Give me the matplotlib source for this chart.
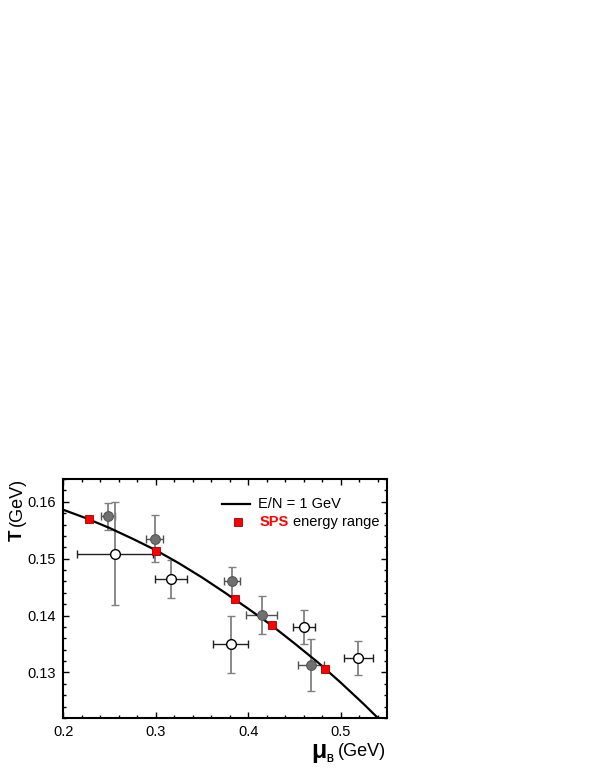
import matplotlib
matplotlib.use("Agg")
import matplotlib.pyplot as plt
from matplotlib.ticker import MultipleLocator

plt.rcParams['font.family'] = ['Liberation Sans', 'DejaVu Sans']

# E/N = 1 GeV freeze-out curve
curve_mu = [0.200, 0.225, 0.250, 0.275, 0.300, 0.325, 0.350, 0.375, 0.400,
            0.425, 0.450, 0.475, 0.500, 0.525, 0.540]
curve_T = [0.1586, 0.1571, 0.1554, 0.1535, 0.1515, 0.1492, 0.1467, 0.1440, 0.1412,
           0.1383, 0.1351, 0.1318, 0.1282, 0.1244, 0.1220]

# SPS energy range points on the curve
sps_mu = [0.228, 0.3005, 0.3855, 0.4253, 0.4831]
sps_T = [0.1569, 0.1514, 0.1429, 0.1383, 0.1307]

# grey filled circles
grey_mu = [0.2488, 0.2987, 0.3826, 0.4144, 0.4676]
grey_T = [0.15745, 0.15353, 0.14601, 0.14007, 0.13133]
grey_xerr = [0.0076, 0.0092, 0.0087, 0.0165, 0.014]
grey_yerr = [0.0024, 0.0041, 0.0025, 0.0033, 0.0045]

# open circles
open_mu = [0.2561, 0.3165, 0.3808, 0.4603, 0.5189]
open_T = [0.1509, 0.14643, 0.13495, 0.13797, 0.1325]
open_xerr = [0.041, 0.0175, 0.0188, 0.012, 0.0154]
open_yerr = [0.009, 0.0034, 0.005, 0.003, 0.003]

W, H = 595, 770
fig = plt.figure(figsize=(W / 100, H / 100), dpi=100)
ax = fig.add_axes([0.1062, 0.0675, 0.5445, 0.3104])

# error bars: vertical in grey, horizontal darker
ax.errorbar(grey_mu, grey_T, yerr=grey_yerr, fmt='none', ecolor='#808080',
            elinewidth=1.3, capsize=2.8, capthick=1.0, zorder=2)
ax.errorbar(grey_mu, grey_T, xerr=grey_xerr, fmt='none', ecolor='#505050',
            elinewidth=1.0, capsize=2.8, capthick=1.0, zorder=2)
ax.errorbar(open_mu, open_T, yerr=open_yerr, fmt='none', ecolor='#808080',
            elinewidth=1.3, capsize=2.8, capthick=1.0, zorder=2)
ax.errorbar(open_mu, open_T, xerr=open_xerr, fmt='none', ecolor='#202020',
            elinewidth=1.0, capsize=2.8, capthick=1.0, zorder=2)

ax.plot(curve_mu, curve_T, color='black', lw=1.6, zorder=3)

ax.plot(grey_mu, grey_T, 'o', ms=7, mfc='#707070', mec='#555555', mew=0.8, zorder=4)
ax.plot(open_mu, open_T, 'o', ms=7, mfc='white', mec='black', mew=1.0, zorder=4)
ax.plot(sps_mu, sps_T, 's', ms=6, mfc='red', mec='#990000', mew=0.6, zorder=5)

ax.set_xlim(0.2, 0.55)
ax.set_ylim(0.122, 0.164)

ax.xaxis.set_minor_locator(MultipleLocator(0.02))
ax.yaxis.set_minor_locator(MultipleLocator(0.002))
ax.set_xticks([0.2, 0.3, 0.4, 0.5])
ax.set_xticklabels(['0.2', '0.3', '0.4', '0.5'])
ax.set_yticks([0.13, 0.14, 0.15, 0.16])
ax.set_yticklabels(['0.13', '0.14', '0.15', '0.16'])

ax.tick_params(which='both', direction='in', top=True, right=True, labelsize=10.5, width=1.0)
ax.tick_params(which='major', length=4.5, pad=5)
ax.tick_params(which='minor', length=2.5)
for s in ax.spines.values():
    s.set_linewidth(1.5)

# y label: bold T, plain (GeV)
fig.text(17 / W, 1 - 535 / H, 'T', rotation=90, ha='center', va='center',
         fontsize=13.5, fontweight='bold')
fig.text(17 / W, 1 - 502 / H, '(GeV)', rotation=90, ha='center', va='center',
         fontsize=13)

# x label: bold mu with subscript B, then (GeV)
fig.text(386 / W, 1 - 752 / H, '(GeV)', ha='right', va='center', fontsize=13)
fig.text(311 / W, 1 - 751 / H, 'μ', ha='left', va='center', fontsize=18,
         fontweight='bold')
fig.text(326 / W, 1 - 759 / H, 'B', ha='left', va='center', fontsize=7,
         fontweight='bold')

# manual legend
ax.plot([0.491, 0.577], [0.894, 0.894], color='black', lw=1.6, transform=ax.transAxes)
ax.text(0.600, 0.894, 'E/N = 1 GeV', transform=ax.transAxes, ha='left', va='center',
        fontsize=10.5)
ax.plot([0.540], [0.820], 's', ms=6, mfc='red', mec='#990000', mew=0.6,
        transform=ax.transAxes)
ax.text(0.607, 0.820, 'SPS', transform=ax.transAxes, ha='left', va='center',
        fontsize=10.5, color='red', fontweight='bold')
ax.text(0.708, 0.820, 'energy range', transform=ax.transAxes, ha='left', va='center',
        fontsize=10.5)

fig.savefig('out.png', dpi=100)
